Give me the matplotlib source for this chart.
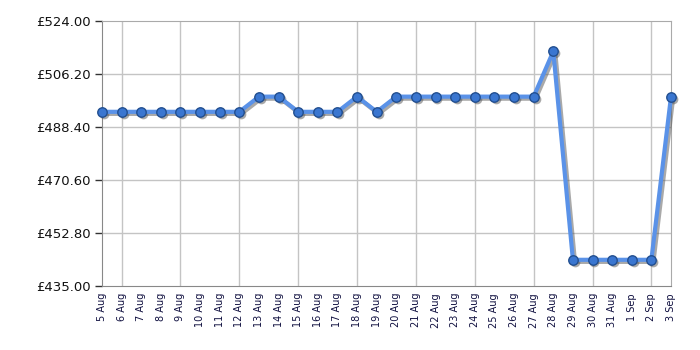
import matplotlib
matplotlib.use("Agg")
import matplotlib.pyplot as plt
import matplotlib.transforms as mtransforms

dates = ["5 Aug", "6 Aug", "7 Aug", "8 Aug", "9 Aug", "10 Aug", "11 Aug", "12 Aug",
         "13 Aug", "14 Aug", "15 Aug", "16 Aug", "17 Aug", "18 Aug", "19 Aug", "20 Aug",
         "21 Aug", "22 Aug", "23 Aug", "24 Aug", "25 Aug", "26 Aug", "27 Aug", "28 Aug",
         "29 Aug", "30 Aug", "31 Aug", "1 Sep", "2 Sep", "3 Sep"]
prices = [493.5, 493.5, 493.5, 493.5, 493.5, 493.5, 493.5, 493.5,
          498.6, 498.6, 493.5, 493.5, 493.5, 498.6, 493.5, 498.6,
          498.6, 498.6, 498.6, 498.6, 498.6, 498.6, 498.6, 513.8,
          443.8, 443.8, 443.8, 443.8, 443.8, 498.6]
y_ticks = [435.00, 452.80, 470.60, 488.40, 506.20, 524.00]

fig = plt.figure(figsize=(7, 3.5), dpi=100)
ax = fig.add_axes([102/700, 1-286/350, 569/700, 265/350])

x = list(range(len(dates)))
shadow_tf = ax.transData + mtransforms.ScaledTranslation(1.4/72, -1.4/72, fig.dpi_scale_trans)
ax.plot(x, prices, color="#555555", alpha=0.5, lw=3.2, marker="o", ms=7,
        mfc="#555555", mec="#555555", mew=0, clip_on=False, zorder=4,
        transform=shadow_tf)
ax.plot(x, prices, color="#5a92e8", lw=3, marker="o", ms=6.8,
        mfc="#3a76d0", mec="#224f90", mew=1, clip_on=False, zorder=5)

ax.set_xlim(0, len(dates) - 1)
ax.set_ylim(y_ticks[0], y_ticks[-1])
ax.set_yticks(y_ticks)
ax.set_yticklabels([f"£{v:.2f}" for v in y_ticks], fontsize=9.5, color="#111111")

ax.set_xticks(x)
ax.set_xticklabels(dates, rotation=90, fontsize=7, color="#101040")
ax.tick_params(axis="x", which="major", length=0, pad=5)
grid_x = [i for i in x if (i - 1) % 3 == 0]
ax.set_xticks(grid_x, minor=True)
ax.tick_params(axis="x", which="minor", length=5, width=1, color="#333333")
ax.tick_params(axis="y", length=5, width=1, color="#333333", pad=3)

for gx in grid_x:
    ax.axvline(gx, color="#c4c4c4", lw=1, zorder=0)
for gy in y_ticks[1:-1]:
    ax.axhline(gy, color="#c4c4c4", lw=1, zorder=0)

for side in ["top", "right"]:
    ax.spines[side].set_color("#aaaaaa")
for side in ["left", "bottom"]:
    ax.spines[side].set_color("#888888")

fig.savefig("out.png", dpi=100)
